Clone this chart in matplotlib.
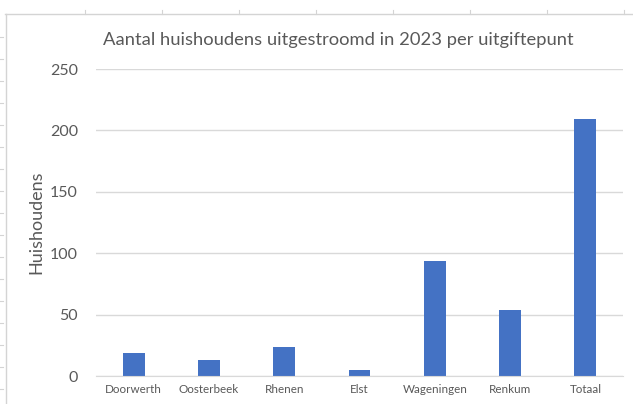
import matplotlib
matplotlib.use('Agg')
import matplotlib.pyplot as plt
from matplotlib.lines import Line2D

# data
locaties = ['Doorwerth', 'Oosterbeek', 'Rhenen', 'Elst', 'Wageningen', 'Renkum', 'Totaal']
huishoudens = [19, 13, 24, 5, 94, 54, 209]

plt.rcParams['font.family'] = ['Lato', 'DejaVu Sans']
tekst = '#595959'
raster = '#d9d9d9'

fig = plt.figure(figsize=(6.33, 4.04), dpi=100)
ax = fig.add_axes([0.1517, 0.0693, 0.8325, 0.7597])

x = range(len(locaties))
ax.bar(x, huishoudens, width=0.29, color='#4472C4', zorder=3)

ax.set_xlim(-0.5, len(locaties) - 0.5)
ax.set_ylim(0, 250)
ax.set_yticks(range(0, 251, 50))
ax.set_xticks(list(x))
ax.set_xticklabels(locaties, fontsize=8.4, color=tekst)
ax.tick_params(axis='y', length=0, pad=13, labelsize=11.5, labelcolor=tekst)
ax.tick_params(axis='x', length=0, pad=6)
ax.grid(axis='y', color=raster, linewidth=1, zorder=0)
for s in ['top', 'right', 'left']:
    ax.spines[s].set_visible(False)
ax.spines['bottom'].set_color(raster)
ax.spines['bottom'].set_zorder(4)

ax.set_ylabel('Huishoudens', fontsize=13, color=tekst, labelpad=4)
fig.text(0.534, 0.9, 'Aantal huishoudens uitgestroomd in 2023 per uitgiftepunt',
         ha='center', va='center', fontsize=13.2, color=tekst)

# randen van het werkblad
W, H = 633, 404
fig.add_artist(Line2D([5 / W, 1], [1 - 13.5 / H] * 2, color='#d4d4d4', lw=1))
fig.add_artist(Line2D([5.5 / W] * 2, [0, 1 - 13.5 / H], color='#d4d4d4', lw=1))
for px in range(85, 633, 77):
    fig.add_artist(Line2D([px / W] * 2, [1 - 10 / H, 1 - 13.5 / H], color='#d4d4d4', lw=0.8))
for py in range(37, 404, 22):
    fig.add_artist(Line2D([0, 3 / W], [1 - py / H] * 2, color='#d4d4d4', lw=0.8))

fig.savefig('out.png', dpi=100)
